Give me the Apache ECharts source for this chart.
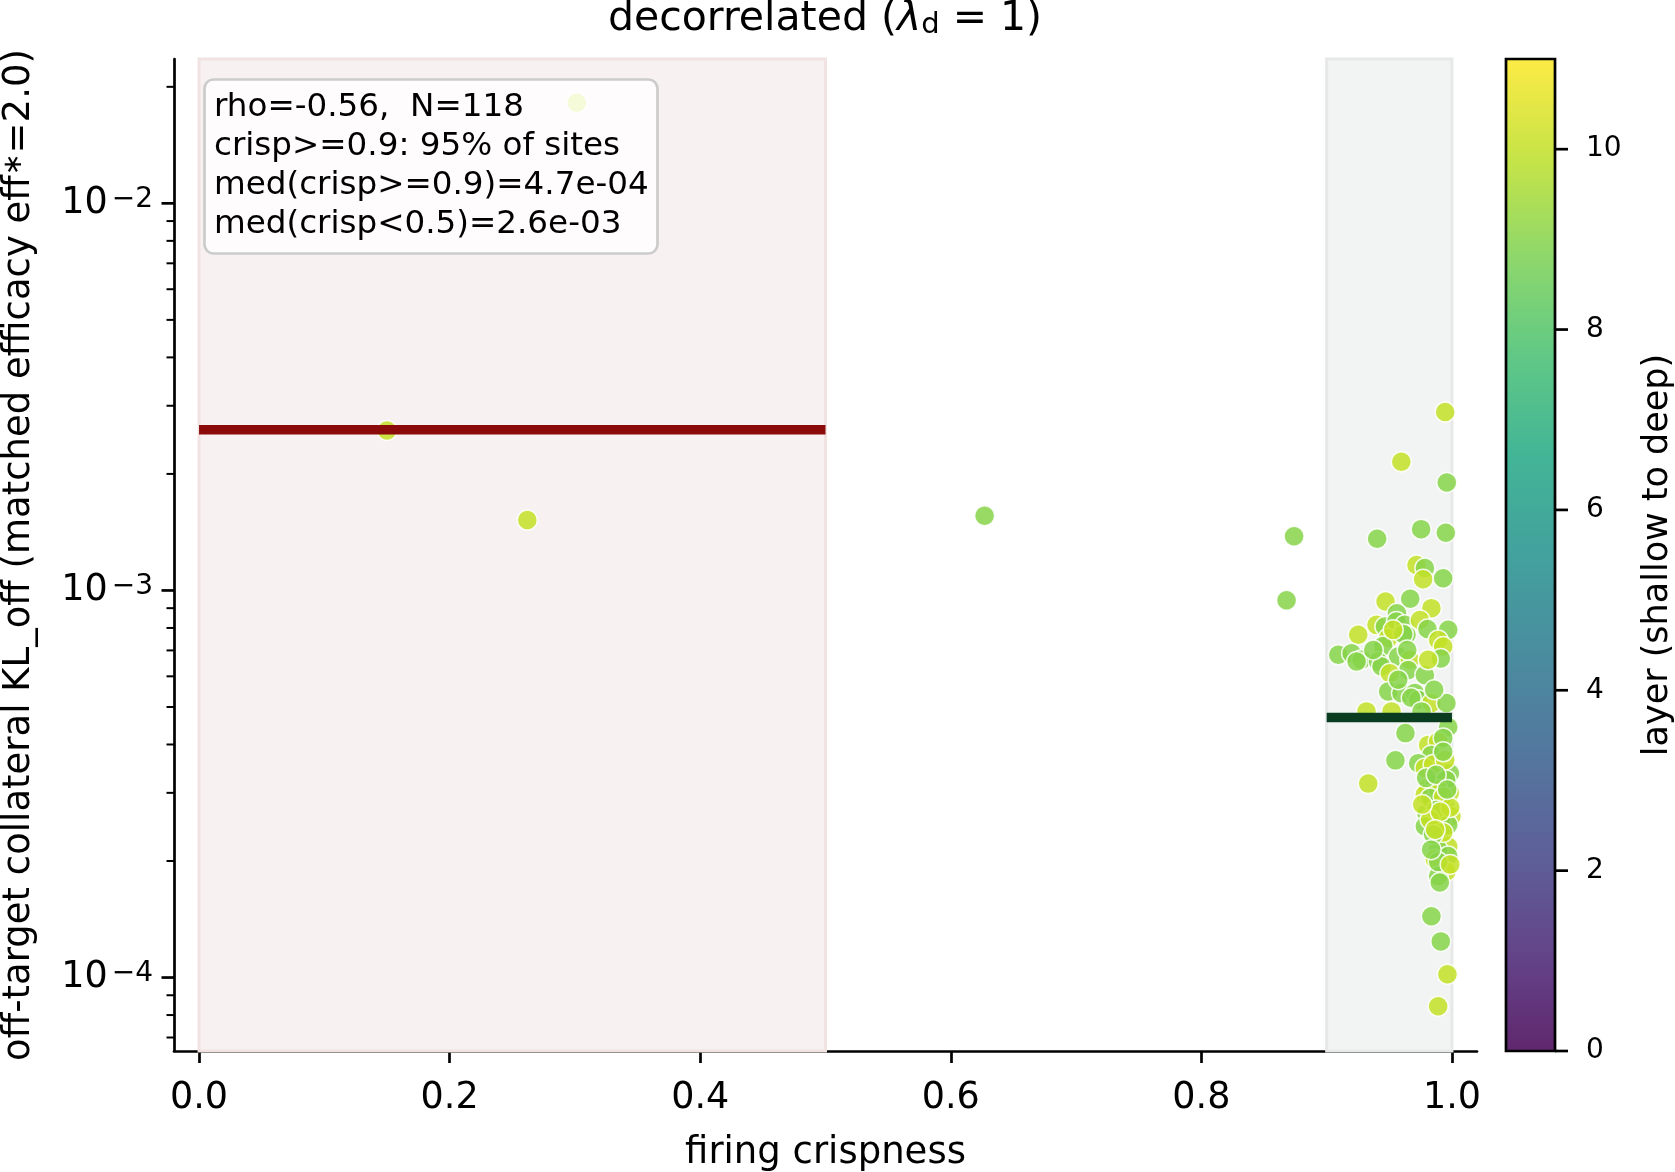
<!DOCTYPE html>
<html><head><meta charset="utf-8">
<script src="https://cdn.jsdelivr.net/npm/echarts@6/dist/echarts.min.js"></script>
<style>html,body{margin:0;padding:0;background:#fff}#c{width:1675px;height:1172px}</style>
</head><body><div id="c"></div>
<script>
// ---- data ----
const crispness = [
 0.150,0.262,0.3015,0.627,0.874,0.868,
 0.9946,0.9596,0.9959,0.9754,0.9951,0.9403,
 0.9717,0.9784,0.9770,0.9930,0.9470,0.9667,0.9836,0.9561,0.9398,0.9465,0.9557,0.9624,0.9637,0.9744,0.9805,0.9970,0.9890,0.9930,0.9252,0.9491,0.9451,0.9093,0.9199,0.9278,0.9239,0.9411,0.9571,0.9664,0.9651,0.9438,0.9505,0.9784,0.9911,0.9491,0.9597,0.9704,0.9731,0.9675,0.9836,0.9956,0.9318,0.9518,0.9757,
 0.9611,0.9531,0.9643,0.9810,0.9571,0.9858,0.9372,
 0.9970,0.9629,0.9549,0.9332,0.9810,0.9890,0.9836,0.9731,0.9784,0.9916,0.9983,0.9810,0.9864,0.9983,0.9784,0.9850,0.9943,0.9996,0.9797,0.9916,0.9784,0.9903,0.9970,0.9890,0.9864,0.9970,0.9956,0.9890,0.9903,0.9836,0.9911,0.9964,0.9890,
 0.9930,0.9850,0.9954,0.9890,0.9826,0.9930,0.9874,0.9970,0.9826,0.9930,0.9850,0.9986,0.9906,0.9794,0.9946,0.9874,0.9890,0.9986,0.9866,0.9962,0.9834,0.9930,0.9763
];
const klOff = [
 2.59e-3,1.52e-3,1.82e-2,1.56e-3,1.38e-3,9.43e-4,
 2.89e-3,2.15e-3,1.90e-3,1.44e-3,1.41e-3,1.36e-3,
 1.163e-3,1.143e-3,1.069e-3,1.075e-3,9.36e-4,9.52e-4,9.00e-4,8.73e-4,8.15e-4,8.07e-4,8.31e-4,8.15e-4,7.68e-4,8.39e-4,7.95e-4,7.91e-4,7.45e-4,7.16e-4,7.68e-4,7.53e-4,7.19e-4,6.82e-4,6.88e-4,6.62e-4,6.55e-4,6.55e-4,6.75e-4,6.62e-4,6.23e-4,6.36e-4,6.11e-4,6.05e-4,6.67e-4,5.48e-4,5.43e-4,5.43e-4,5.22e-4,5.28e-4,5.12e-4,5.12e-4,4.87e-4,4.87e-4,4.87e-4,
 7.72e-4,7.91e-4,7.02e-4,6.62e-4,5.88e-4,5.54e-4,7.02e-4,
 4.44e-4,4.28e-4,3.64e-4,3.17e-4,3.99e-4,4.07e-4,3.76e-4,3.58e-4,3.48e-4,3.44e-4,3.37e-4,3.09e-4,3.18e-4,3.00e-4,2.97e-4,2.85e-4,2.80e-4,2.61e-4,2.66e-4,2.56e-4,2.46e-4,2.36e-4,2.18e-4,2.14e-4,2.02e-4,2.06e-4,1.88e-4,1.83e-4,1.76e-4,1.44e-4,1.24e-4,1.02e-4,8.43e-5,
 4.16e-4,3.55e-4,3.24e-4,3.06e-4,2.91e-4,2.93e-4,2.71e-4,2.48e-4,2.56e-4,2.37e-4,2.34e-4,2.75e-4,2.68e-4,3.28e-4,3.65e-4,3.34e-4,1.99e-4,1.96e-4,2.41e-4,3.06e-4,2.14e-4,3.83e-4,2.80e-4
];
const layerIdx = [
 10,10,10,9,9,9,
 10,10,9,9,9,9,
 10,9,10,9,10,9,10,9,10,9,9,9,9,10,9,9,10,10,10,10,9,9,9,9,9,9,9,10,9,9,10,9,9,9,9,9,9,9,10,9,10,10,9,
 9,10,9,10,9,9,9,
 9,9,9,10,10,10,9,9,10,10,9,10,9,10,10,9,9,10,9,10,9,9,10,9,10,9,10,9,9,9,9,10,10,
 9,10,9,10,9,10,9,9,10,10,9,10,10,9,10,9,9,10,10,9,9,9,10
];
const lowBand = [0, 0.5];
const highBand = [0.9, 1.0];
const medianLow = 2.6e-3;
const medianHigh = 4.7e-4;
const xTicks = [0, 0.2, 0.4, 0.6, 0.8, 1.0];
const yMajorTicks = [1e-4, 1e-3, 1e-2];
const yMinorTicks = [7e-5,8e-5,9e-5,2e-4,3e-4,4e-4,5e-4,6e-4,7e-4,8e-4,9e-4,2e-3,3e-3,4e-3,5e-3,6e-3,7e-3,8e-3,9e-3,2e-2];
const cbTicks = [0, 2, 4, 6, 8, 10];
const cbRange = [0, 11];
const statsLines = ['rho=-0.56,  N=118', 'crisp>=0.9: 95% of sites', 'med(crisp>=0.9)=4.7e-04', 'med(crisp<0.5)=2.6e-03'];
const viridis = ['#440154','#482475','#414487','#355f8d','#2a788e','#21918c','#22a884','#44bf70','#7ad151','#bddf26','#fde725'];

const X0 = -0.02, X1 = 1.02, Y0 = 6.46e-5, Y1 = 0.0236;
const FONT = 'DejaVu Sans';

const points = crispness.map((c, i) => [c, klOff[i], layerIdx[i]]);
const tickData = yMajorTicks.map(v => [X0, v, 1]).concat(yMinorTicks.map(v => [X0, v, 0]));
const cbTickData = cbTicks.map(v => [1, v]);

function withAlpha(hex, a) {
  const n = parseInt(hex.slice(1), 16);
  return 'rgba(' + (n >> 16 & 255) + ',' + (n >> 8 & 255) + ',' + (n & 255) + ',' + a + ')';
}

const chart = echarts.init(document.getElementById('c'), null, {renderer: 'canvas'});
const option = {
  animation: false,
  backgroundColor: '#fff',
  textStyle: {fontFamily: FONT, color: '#000'},
  title: [{
    text: statsLines.join('\n'),
    left: 204, top: 79,
    backgroundColor: 'rgba(255,255,255,0.8)',
    borderColor: '#cccccc', borderWidth: 2.7, borderRadius: 9,
    padding: [9, 9, 10, 10],
    textStyle: {fontFamily: FONT, fontSize: 32.6, lineHeight: 39, fontWeight: 'normal', color: '#000'}
  }],
  graphic: [{
    type: 'text', x: 825, y: 19, z: 10,
    style: {
      text: '{n|decorrelated (}{i|λ}{s|d}{n| = 1)}',
      align: 'center', verticalAlign: 'middle',
      rich: {
        n: {fontFamily: FONT, fontSize: 41, lineHeight: 41, color: '#000'},
        i: {fontFamily: FONT, fontSize: 41, lineHeight: 41, fontStyle: 'italic', color: '#000'},
        s: {fontFamily: FONT, fontSize: 29, lineHeight: 29, padding: [20, 0, 0, 0], verticalAlign: 'bottom', color: '#000'}
      }
    }
  }],
  grid: [
    {left: 174, top: 59, width: 1303, height: 992, show: false, containLabel: false, outerBoundsMode: 'none'},
    {left: 1506, top: 59, width: 49, height: 992, show: false, containLabel: false, outerBoundsMode: 'none'}
  ],
  xAxis: [{
    type: 'value', gridIndex: 0, min: X0, max: X1,
    axisLine: {show: true, onZero: false, lineStyle: {color: '#000', width: 2.7}},
    axisTick: {show: true, length: 12, lineStyle: {color: '#000', width: 2.7}, customValues: xTicks},
    axisLabel: {show: true, customValues: xTicks, margin: 30, fontFamily: FONT, fontSize: 36.5, lineHeight: 36, color: '#000', formatter: v => v.toFixed(1)},
    splitLine: {show: false},
    name: 'firing crispness', nameLocation: 'middle', nameGap: 84,
    nameTextStyle: {fontFamily: FONT, fontSize: 37, lineHeight: 37, color: '#000'}
  }, {
    type: 'value', gridIndex: 1, min: 0, max: 1, show: false
  }],
  yAxis: [{
    type: 'log', logBase: 10, gridIndex: 0, min: Y0, max: Y1,
    axisLine: {show: true, onZero: false, lineStyle: {color: '#000', width: 2.7}},
    axisTick: {show: false}, minorTick: {show: false}, splitLine: {show: false}, minorSplitLine: {show: false},
    axisLabel: {
      show: true, margin: 21, showMinLabel: true, showMaxLabel: true,
      formatter: v => {
        const e = Math.log10(v);
        if (Math.abs(e - Math.round(e)) > 1e-6) return '';
        return '{b|10}{e|−' + (-Math.round(e)) + '}';
      },
      rich: {
        b: {fontFamily: FONT, fontSize: 36.5, lineHeight: 36, color: '#000'},
        e: {fontFamily: FONT, fontSize: 28, lineHeight: 27, padding: [0, 0, 22, 4], verticalAlign: 'top', color: '#000'}
      }
    },
    name: '{n|off-target collateral KL_off (matched efficacy eff}{s|∗}{n|=2.0)}',
    nameLocation: 'middle', nameRotate: 90, nameGap: 136,
    nameTextStyle: {
      fontFamily: FONT, fontSize: 37, color: '#000',
      rich: {
        n: {fontFamily: FONT, fontSize: 37, lineHeight: 37, color: '#000'},
        s: {fontFamily: FONT, fontSize: 26, lineHeight: 26, padding: [0, 0, 18, 0], verticalAlign: 'top', color: '#000'}
      }
    }
  }, {
    type: 'value', gridIndex: 1, min: cbRange[0], max: cbRange[1], position: 'right',
    axisLine: {show: false},
    axisTick: {show: false},
    axisLabel: {show: true, customValues: cbTicks, margin: 31, fontFamily: FONT, fontSize: 28, color: '#000'},
    splitLine: {show: false},
    name: 'layer (shallow to deep)', nameLocation: 'middle', nameRotate: 90, nameGap: 85,
    nameTextStyle: {fontFamily: FONT, fontSize: 35, lineHeight: 35, color: '#000'}
  }],
  visualMap: [{
    type: 'continuous', show: false, seriesIndex: 1, dimension: 2,
    min: cbRange[0], max: cbRange[1], inRange: {color: viridis}
  }],
  series: [
    {
      type: 'line', xAxisIndex: 0, yAxisIndex: 0, z: 1, data: [], silent: true,
      markArea: {
        silent: true,
        data: [
          [{xAxis: lowBand[0], itemStyle: {color: '#f8f1f1', borderColor: '#f2e3e3', borderWidth: 3}}, {xAxis: lowBand[1]}],
          [{xAxis: highBand[0], itemStyle: {color: '#f2f4f3', borderColor: '#e6e9e8', borderWidth: 3}}, {xAxis: highBand[1]}]
        ]
      }
    },
    {
      type: 'scatter', xAxisIndex: 0, yAxisIndex: 0, z: 2, data: points,
      symbol: 'circle', symbolSize: 20,
      itemStyle: {opacity: 0.85, borderColor: '#ffffff', borderWidth: 1.5},
      emphasis: {disabled: true}
    },
    {
      type: 'line', xAxisIndex: 0, yAxisIndex: 0, z: 3, symbol: 'none', silent: true,
      data: [[lowBand[0], medianLow], [lowBand[1], medianLow]],
      lineStyle: {color: '#8b0a0a', width: 9.5, cap: 'butt'}
    },
    {
      type: 'line', xAxisIndex: 0, yAxisIndex: 0, z: 3, symbol: 'none', silent: true,
      data: [[highBand[0], medianHigh], [highBand[1], medianHigh]],
      lineStyle: {color: '#0a3d1f', width: 9.5, cap: 'butt'}
    },
    {
      type: 'custom', xAxisIndex: 0, yAxisIndex: 0, z: 5, clip: false, silent: true,
      data: tickData,
      renderItem: (params, api) => {
        const p = api.coord([api.value(0), api.value(1)]);
        const major = api.value(2) === 1;
        const L = major ? 12.5 : 7.5;
        return {type: 'line', shape: {x1: p[0] - L, y1: p[1], x2: p[0], y2: p[1]},
                style: {stroke: '#000', lineWidth: major ? 2.7 : 2}};
      }
    },
    {
      type: 'custom', xAxisIndex: 1, yAxisIndex: 1, z: 2, clip: false, silent: true,
      data: [[0, cbRange[0], 1, cbRange[1]]],
      renderItem: (params, api) => {
        const a = api.coord([api.value(0), api.value(3)]);
        const b = api.coord([api.value(2), api.value(1)]);
        const stops = viridis.map((c, i) => ({offset: i / (viridis.length - 1), color: withAlpha(c, 0.85)}));
        return {type: 'rect', shape: {x: a[0], y: a[1], width: b[0] - a[0], height: b[1] - a[1]},
                style: {fill: new echarts.graphic.LinearGradient(0, 1, 0, 0, stops), stroke: '#000', lineWidth: 2.7}};
      }
    },
    {
      type: 'custom', xAxisIndex: 1, yAxisIndex: 1, z: 4, clip: false, silent: true,
      data: cbTickData,
      renderItem: (params, api) => {
        const p = api.coord([api.value(0), api.value(1)]);
        return {type: 'line', shape: {x1: p[0], y1: p[1], x2: p[0] + 13, y2: p[1]},
                style: {stroke: '#000', lineWidth: 2.7}};
      }
    }
  ]
};
chart.setOption(option);
</script>
</body></html>
